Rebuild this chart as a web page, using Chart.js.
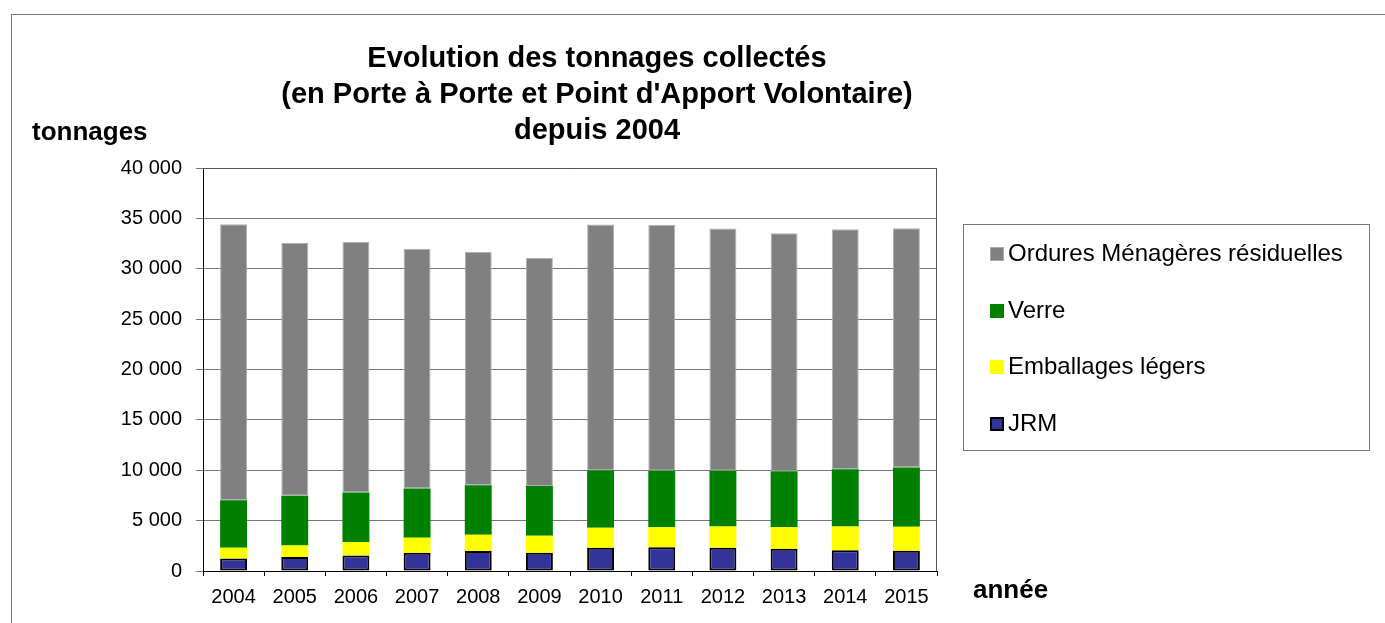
<!DOCTYPE html>
<html>
<head>
<meta charset="utf-8">
<script src="https://cdn.jsdelivr.net/npm/chart.js@4/dist/chart.umd.min.js"></script>
<style>
  body { margin: 0; background: #fff; font-family: "Liberation Sans", Arial, sans-serif; }
  #wrap { position: relative; width: 1385px; height: 623px; overflow: hidden; }
  #frame { position: absolute; left: 11px; top: 14px; width: 1420px; height: 640px; border: 1px solid #777; box-sizing: border-box; }
  canvas { position: absolute; left: 0; top: 0; }
  .title { position: absolute; left: 247px; width: 700px; top: 39px; text-align: center; font-weight: bold; font-size: 29px; line-height: 36px; color: #000; }
  .axis-t { position: absolute; font-weight: bold; font-size: 26px; line-height: 26px; color: #000; }
  #legend { position: absolute; left: 963px; top: 224px; width: 407px; height: 227px; border: 1px solid #777; box-sizing: border-box; }
  #legend div { position: absolute; left: 26px; height: 28px; display: flex; align-items: center; font-size: 24px; line-height: 28px; color: #000; white-space: nowrap; }
  #legend span { display: inline-block; width: 14px; height: 14px; margin-right: 4px; margin-top: 2px; box-sizing: border-box; }
</style>
</head>
<body>
<div id="wrap">
  <div id="frame"></div>
  <canvas id="chart" width="1385" height="623"></canvas>
  <div class="title">Evolution des tonnages collectés<br>(en Porte à Porte et Point d'Apport Volontaire)<br>depuis 2004</div>
  <div class="axis-t" style="left:32px; top:118px;">tonnages</div>
  <div class="axis-t" style="left:973px; top:576px;">année</div>
  <div id="legend"></div>
</div>
<script>
// Data
const years = ['2004', '2005', '2006', '2007', '2008', '2009', '2010', '2011', '2012', '2013', '2014', '2015'];
const jrm = [1250, 1390, 1550, 1815, 1985, 1815, 2300, 2360, 2300, 2200, 2065, 2000];
const emballages = [1060, 1150, 1330, 1490, 1615, 1685, 1990, 1990, 2120, 2150, 2355, 2390];
const verre = [4700, 4930, 4920, 4895, 4900, 4940, 5685, 5600, 5530, 5550, 5680, 5880];
const omr = [27400, 25090, 24860, 23790, 23160, 22630, 24415, 24410, 24050, 23630, 23830, 23760];

const fontFamily = '"Liberation Sans", Arial, sans-serif';

function fmt(v) {
    return String(v).replace(/\B(?=(\d{3})+(?!\d))/g, ' ');
}

const datasets = [
    { label: 'JRM', data: jrm, backgroundColor: '#333399', borderColor: '#000', borderWidth: 2 },
    { label: 'Emballages légers', data: emballages, backgroundColor: '#ffff00', borderColor: '#ffff00', borderWidth: 0 },
    { label: 'Verre', data: verre, backgroundColor: '#008000', borderColor: '#008000', borderWidth: 0 },
    { label: 'Ordures Ménagères résiduelles', data: omr, backgroundColor: '#808080', borderColor: '#b0b0b0', borderWidth: 1 }
];
datasets.forEach(d => { d.barPercentage = 0.44; d.categoryPercentage = 1; d.borderSkipped = false; });

// plot area border (top + right)
const plotBox = {
    id: 'plotBox',
    afterDraw(chart) {
        const a = chart.chartArea, ctx = chart.ctx;
        ctx.save();
        ctx.strokeStyle = '#555';
        ctx.lineWidth = 1;
        ctx.beginPath();
        ctx.moveTo(a.left, a.top + 0.5);
        ctx.lineTo(a.right - 0.5, a.top + 0.5);
        ctx.lineTo(a.right - 0.5, a.bottom);
        ctx.stroke();
        ctx.restore();
    }
};

const chart = new Chart(document.getElementById('chart'), {
    type: 'bar',
    data: { labels: years, datasets: datasets },
    options: {
        responsive: false,
        animation: false,
        layout: { padding: { left: 0, top: 168, right: 448, bottom: 12 } },
        plugins: { legend: { display: false }, tooltip: { enabled: false } },
        scales: {
            x: {
                stacked: true,
                afterFit(scale) { scale.height = 40; },
                grid: { display: true, drawOnChartArea: false, offset: true, tickLength: 5, color: '#000' },
                border: { color: '#000', width: 1 },
                ticks: { color: '#000', font: { family: fontFamily, size: 20 }, padding: 9 }
            },
            y: {
                stacked: true,
                min: 0, max: 40000,
                afterFit(scale) { scale.width = 203; },
                grid: { color: '#777', tickLength: 7, lineWidth: 1 },
                border: { color: '#000', width: 1 },
                ticks: { stepSize: 5000, color: '#000', font: { family: fontFamily, size: 20 }, padding: 14,
                         callback: v => fmt(v) }
            }
        }
    },
    plugins: [plotBox]
});

// legend, reversed like the original
const legend = document.getElementById('legend');
const tops = [14, 71, 127, 184];
datasets.slice().reverse().forEach((d, i) => {
    const item = document.createElement('div');
    item.style.top = tops[i] + 'px';
    const sw = document.createElement('span');
    sw.style.background = d.backgroundColor;
    if (d.label === 'JRM') sw.style.border = '2px solid #000';
    if (d.label.startsWith('Ordures')) sw.style.border = '1px solid #aaa';
    item.appendChild(sw);
    item.appendChild(document.createTextNode(d.label));
    legend.appendChild(item);
});
</script>
</body>
</html>
